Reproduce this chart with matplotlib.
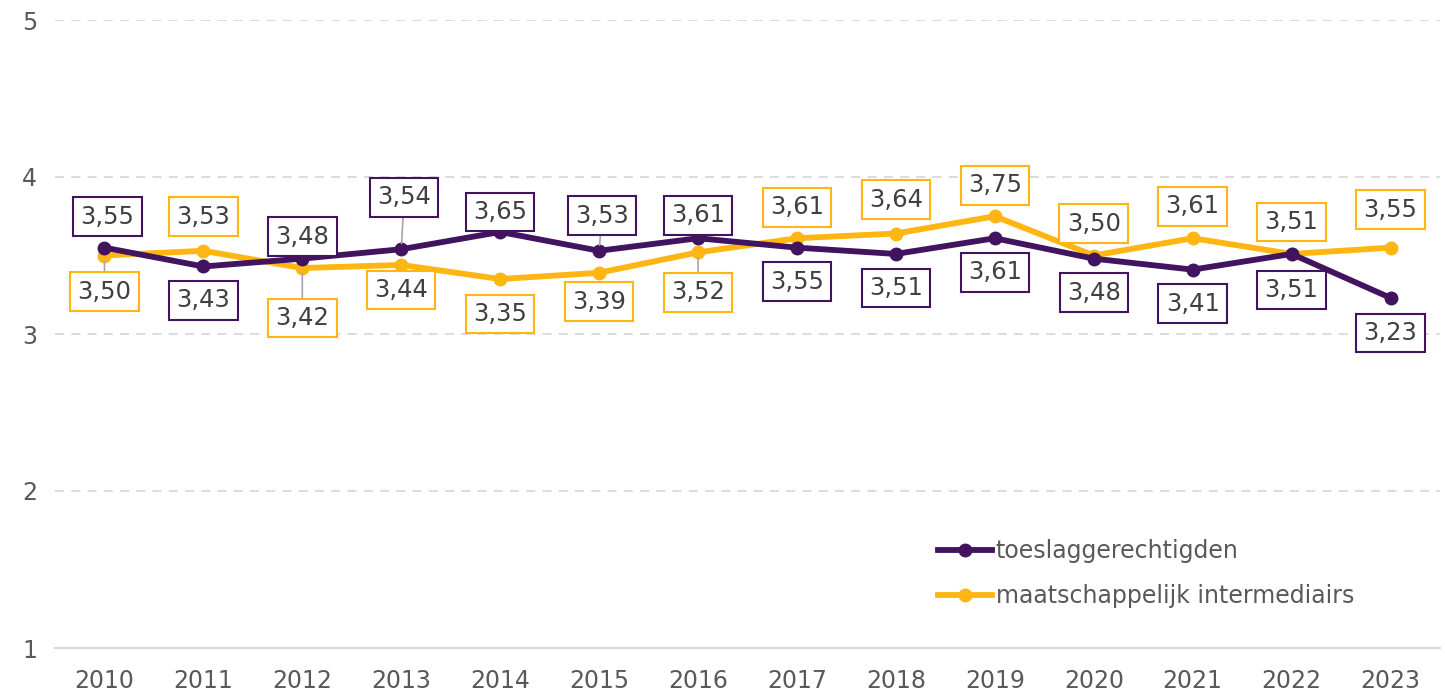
import matplotlib.pyplot as plt

years = [str(y) for y in range(2010, 2024)]
toeslag = [3.55, 3.43, 3.48, 3.54, 3.65, 3.53, 3.61, 3.55, 3.51, 3.61, 3.48, 3.41, 3.51, 3.23]
intermediairs = [3.50, 3.53, 3.42, 3.44, 3.35, 3.39, 3.52, 3.61, 3.64, 3.75, 3.50, 3.61, 3.51, 3.55]

# label offsets in pixels (positive = below the point)
toeslag_dy = [-31, 34, -22, -52, -20, -35, -23, 34, 34, 34, 34, 34, 36, 35]
toeslag_dx = [3, 0, 0, 3, 0, 3, 0, 0, 0, 0, 0, 0, 0, 0]
toeslag_leader = [3, 5]
inter_dy = [36, -34, 50, 25, 35, 29, 40, -31, -34, -31, -32, -32, -32, -38]
inter_dx = [0, 0, 0, 0, 0, 0, 0, 0, 0, 0, 0, 0, 0, 0]
inter_leader = [0, 2, 6]

PURPLE = "#42145f"
YELLOW = "#ffb612"
GREY = "#595959"

fig = plt.figure(figsize=(14.45, 6.92), dpi=100)
ax = fig.add_axes([55 / 1445, 44 / 692, 1385 / 1445, 628 / 692])

x = list(range(len(years)))
ax.plot(x, toeslag, color=PURPLE, lw=4.2, marker="o", ms=9, label="toeslaggerechtigden", zorder=4)
ax.plot(x, intermediairs, color=YELLOW, lw=4.2, marker="o", ms=9, label="maatschappelijk intermediairs", zorder=3)


def add_labels(values, dx, dy, leaders, color):
    for i, v in enumerate(values):
        kw = {}
        if i in leaders:
            kw["arrowprops"] = dict(arrowstyle="-", color="#a6a6a6", lw=1.2, shrinkA=0, shrinkB=4)
        ax.annotate(
            f"{v:.2f}".replace(".", ","),
            xy=(i, v),
            xytext=(dx[i] * 0.72, -dy[i] * 0.72),
            textcoords="offset points",
            ha="center",
            va="center",
            fontsize=17.5,
            color="#404040",
            bbox=dict(boxstyle="square,pad=0.3", fc="white", ec=color, lw=1.5),
            zorder=6,
            **kw,
        )


add_labels(toeslag, toeslag_dx, toeslag_dy, toeslag_leader, PURPLE)
add_labels(intermediairs, inter_dx, inter_dy, inter_leader, YELLOW)

ax.set_xlim(-0.5, len(years) - 0.5)
ax.set_ylim(1, 5)
ax.set_yticks([1, 2, 3, 4, 5])
ax.set_xticks(x)
ax.set_xticklabels(years)
for y in [2, 3, 4, 5]:
    ax.axhline(y, color="#d9d9d9", lw=1.3, ls=(0, (5, 4)), zorder=1)
for s in ["top", "right", "left"]:
    ax.spines[s].set_visible(False)
ax.spines["bottom"].set_color("#d9d9d9")
ax.spines["bottom"].set_linewidth(1.5)
ax.tick_params(axis="both", length=0, labelsize=17, colors=GREY)
ax.tick_params(axis="y", pad=13)
ax.tick_params(axis="x", pad=15)

leg = ax.legend(
    loc="upper left",
    bbox_to_anchor=(938 / 1445, (692 - 539) / 692),
    bbox_transform=fig.transFigure,
    frameon=False,
    fontsize=17,
    handlelength=2.3,
    handletextpad=0.15,
    labelspacing=0.9,
    borderpad=0,
    borderaxespad=0,
)
for t in leg.get_texts():
    t.set_color(GREY)

fig.savefig("out.png", dpi=100)
